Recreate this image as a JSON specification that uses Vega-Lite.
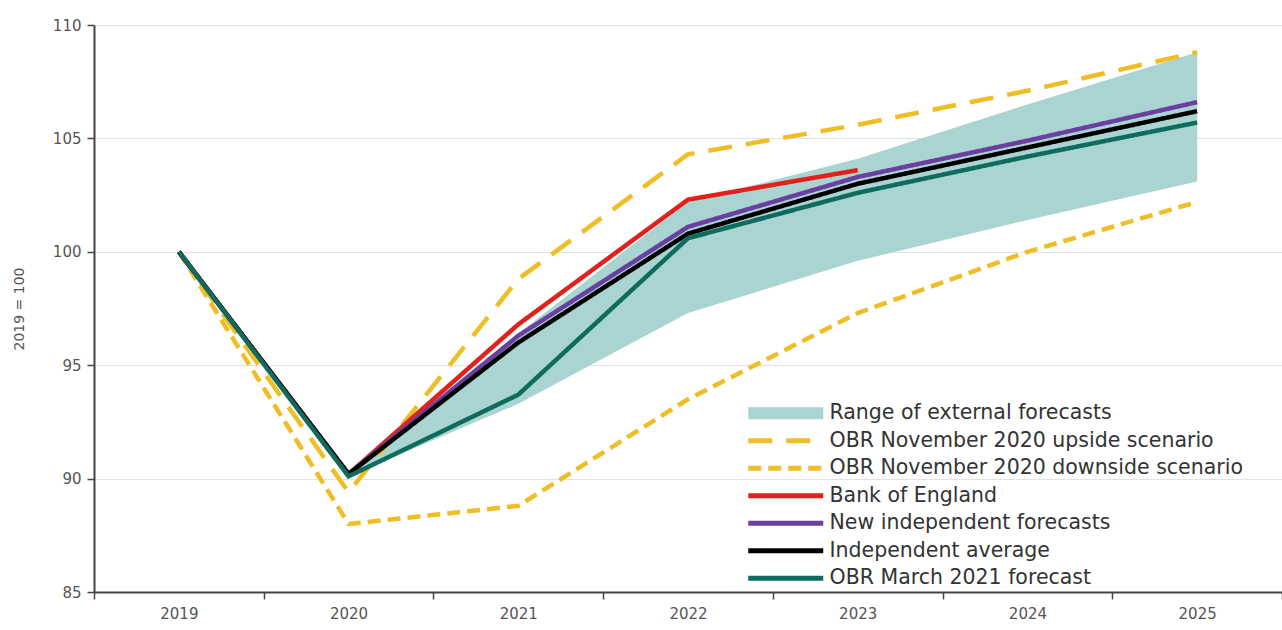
{
  "$schema": "https://vega.github.io/schema/vega-lite/v6.json",
  "width": 1188,
  "height": 567,
  "autosize": "none",
  "padding": {"left": 94, "top": 25, "right": 0, "bottom": 38},
  "background": "white",
  "config": {
    "view": {"stroke": null},
    "font": "DejaVu Sans",
    "axis": {
      "labelFont": "DejaVu Sans",
      "labelFontSize": 15,
      "labelColor": "#555555",
      "titleFont": "DejaVu Sans",
      "titleFontSize": 14,
      "titleFontWeight": "normal",
      "titleColor": "#555555",
      "domainColor": "#444444",
      "domainWidth": 2,
      "tickColor": "#444444",
      "tickWidth": 1.5,
      "tickSize": 7,
      "gridColor": "#e2e2e2",
      "gridWidth": 1
    }
  },
  "datasets": {
    "lines": [
      {"series": "OBR November 2020 upside scenario", "year": "2019", "value": 100},
      {"series": "OBR November 2020 upside scenario", "year": "2020", "value": 89.4},
      {"series": "OBR November 2020 upside scenario", "year": "2021", "value": 98.8},
      {"series": "OBR November 2020 upside scenario", "year": "2022", "value": 104.3},
      {"series": "OBR November 2020 upside scenario", "year": "2023", "value": 105.6},
      {"series": "OBR November 2020 upside scenario", "year": "2024", "value": 107.1},
      {"series": "OBR November 2020 upside scenario", "year": "2025", "value": 108.8},
      {"series": "OBR November 2020 downside scenario", "year": "2019", "value": 100},
      {"series": "OBR November 2020 downside scenario", "year": "2020", "value": 88.0},
      {"series": "OBR November 2020 downside scenario", "year": "2021", "value": 88.8},
      {"series": "OBR November 2020 downside scenario", "year": "2022", "value": 93.5},
      {"series": "OBR November 2020 downside scenario", "year": "2023", "value": 97.3},
      {"series": "OBR November 2020 downside scenario", "year": "2024", "value": 100.0},
      {"series": "OBR November 2020 downside scenario", "year": "2025", "value": 102.2},
      {"series": "Bank of England", "year": "2019", "value": 100},
      {"series": "Bank of England", "year": "2020", "value": 90.2},
      {"series": "Bank of England", "year": "2021", "value": 96.8},
      {"series": "Bank of England", "year": "2022", "value": 102.3},
      {"series": "Bank of England", "year": "2023", "value": 103.6},
      {"series": "New independent forecasts", "year": "2019", "value": 100},
      {"series": "New independent forecasts", "year": "2020", "value": 90.2},
      {"series": "New independent forecasts", "year": "2021", "value": 96.3},
      {"series": "New independent forecasts", "year": "2022", "value": 101.1},
      {"series": "New independent forecasts", "year": "2023", "value": 103.3},
      {"series": "New independent forecasts", "year": "2024", "value": 104.9},
      {"series": "New independent forecasts", "year": "2025", "value": 106.6},
      {"series": "Independent average", "year": "2019", "value": 100},
      {"series": "Independent average", "year": "2020", "value": 90.2},
      {"series": "Independent average", "year": "2021", "value": 96.0},
      {"series": "Independent average", "year": "2022", "value": 100.8},
      {"series": "Independent average", "year": "2023", "value": 103.0},
      {"series": "Independent average", "year": "2024", "value": 104.6},
      {"series": "Independent average", "year": "2025", "value": 106.2},
      {"series": "OBR March 2021 forecast", "year": "2019", "value": 100},
      {"series": "OBR March 2021 forecast", "year": "2020", "value": 90.1},
      {"series": "OBR March 2021 forecast", "year": "2021", "value": 93.7},
      {"series": "OBR March 2021 forecast", "year": "2022", "value": 100.6},
      {"series": "OBR March 2021 forecast", "year": "2023", "value": 102.6},
      {"series": "OBR March 2021 forecast", "year": "2024", "value": 104.2},
      {"series": "OBR March 2021 forecast", "year": "2025", "value": 105.7}
    ],
    "range": [
      {"year": "2020", "lo": 90.1, "hi": 90.2},
      {"year": "2021", "lo": 93.3, "hi": 96.4},
      {"year": "2022", "lo": 97.3, "hi": 102.2},
      {"year": "2023", "lo": 99.6, "hi": 104.1},
      {"year": "2024", "lo": 101.4, "hi": 106.5},
      {"year": "2025", "lo": 103.1, "hi": 108.8}
    ]
  },
  "encoding": {
    "x": {
      "field": "year",
      "type": "ordinal",
      "bandPosition": 0.5,
      "scale": {"type": "band", "paddingInner": 0, "paddingOuter": 0, "domain": ["2019", "2020", "2021", "2022", "2023", "2024", "2025"]},
      "axis": {"title": null, "labelAngle": 0, "tickBand": "extent", "labelPadding": 7, "grid": false}
    }
  },
  "layer": [
    {
      "data": {"name": "range"},
      "mark": {"type": "area", "color": "#a9d4d1", "opacity": 1},
      "encoding": {
        "y": {
          "field": "lo",
          "type": "quantitative",
          "scale": {"domain": [85, 110], "nice": false, "zero": false},
          "axis": {"title": "2019 = 100", "values": [85, 90, 95, 100, 105, 110], "grid": true, "titlePadding": 26, "labelPadding": 6}
        },
        "y2": {"field": "hi"}
      }
    },
    {
      "data": {"name": "lines"},
      "mark": {"type": "line", "strokeWidth": 4.5, "strokeCap": "butt", "strokeJoin": "miter"},
      "encoding": {
        "y": {"field": "value", "type": "quantitative"},
        "color": {
          "field": "series",
          "type": "nominal",
          "scale": {
            "domain": ["Range of external forecasts", "OBR November 2020 upside scenario", "OBR November 2020 downside scenario", "Bank of England", "New independent forecasts", "Independent average", "OBR March 2021 forecast"],
            "range": ["#a9d4d1", "#efbd25", "#efbd25", "#e3211c", "#6a3fa0", "#000000", "#0e6b5d"]
          },
          "legend": {
            "title": null,
            "orient": "none",
            "legendX": 709,
            "legendY": 378,
            "padding": 0,
            "symbolType": "M-6.5,0H1",
            "symbolSize": 400,
            "symbolStrokeWidth": 5,
            "rowPadding": 6.5,
            "labelOffset": 6,
            "labelFont": "DejaVu Sans",
            "labelFontSize": 20.5,
            "labelColor": "#333333",
            "labelLimit": 600,
            "encode": {
              "symbols": {
                "update": {
                  "shape": {"signal": "datum.value === 'Range of external forecasts' ? 'M-6.5,-0.6H1V0.6H-6.5Z' : 'M-6.5,0H1'"},
                  "fill": {"signal": "datum.value === 'Range of external forecasts' ? '#a9d4d1' : 'transparent'"},
                  "strokeWidth": {"signal": "datum.value === 'Range of external forecasts' ? 0 : 5"}
                }
              }
            }
          }
        },
        "strokeDash": {
          "field": "series",
          "type": "nominal",
          "scale": {
            "domain": ["Range of external forecasts", "OBR November 2020 upside scenario", "OBR November 2020 downside scenario", "Bank of England", "New independent forecasts", "Independent average", "OBR March 2021 forecast"],
            "range": [[1, 0], [24, 14], [13, 7], [1, 0], [1, 0], [1, 0], [1, 0]]
          },
          "legend": {
            "title": null,
            "orient": "none",
            "legendX": 709,
            "legendY": 378,
            "padding": 0,
            "symbolType": "M-6.5,0H1",
            "symbolSize": 400,
            "symbolStrokeWidth": 5,
            "rowPadding": 6.5,
            "labelOffset": 6,
            "labelFont": "DejaVu Sans",
            "labelFontSize": 20.5,
            "labelColor": "#333333",
            "labelLimit": 600,
            "encode": {
              "symbols": {
                "update": {
                  "shape": {"signal": "datum.value === 'Range of external forecasts' ? 'M-6.5,-0.6H1V0.6H-6.5Z' : 'M-6.5,0H1'"},
                  "fill": {"signal": "datum.value === 'Range of external forecasts' ? '#a9d4d1' : 'transparent'"},
                  "strokeWidth": {"signal": "datum.value === 'Range of external forecasts' ? 0 : 5"}
                }
              }
            }
          }
        }
      }
    }
  ]
}
